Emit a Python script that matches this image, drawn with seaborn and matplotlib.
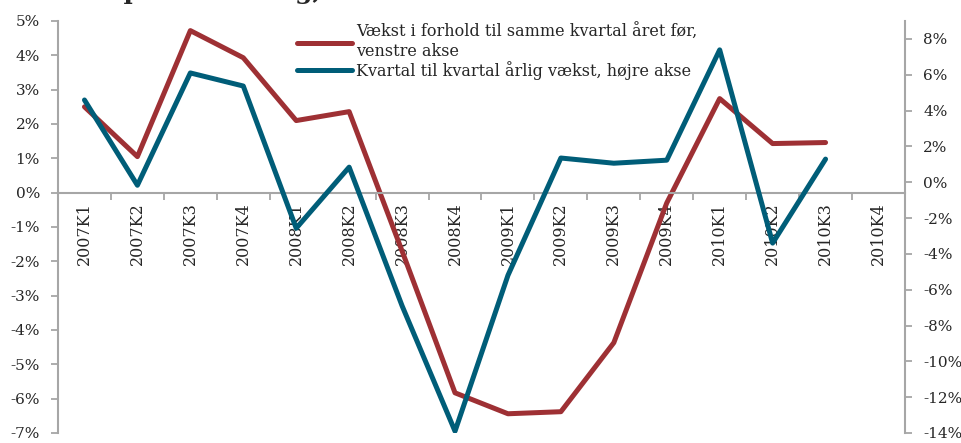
import numpy as np
import pandas as pd
import matplotlib
matplotlib.use("Agg")
import matplotlib.pyplot as plt
import seaborn as sns

quarters = ["2007K1", "2007K2", "2007K3", "2007K4",
            "2008K1", "2008K2", "2008K3", "2008K4",
            "2009K1", "2009K2", "2009K3", "2009K4",
            "2010K1", "2010K2", "2010K3", "2010K4"]
# vækst ift. samme kvartal året før (venstre akse, %)
yoy = [2.50, 1.05, 4.72, 3.93, 2.10, 2.36, -1.70, -5.83,
       -6.44, -6.38, -4.37, -0.30, 2.74, 1.43, 1.46, np.nan]
# kvartal til kvartal, årlig vækst (højre akse, %)
qoq = [4.59, -0.17, 6.10, 5.37, -2.57, 0.84, -6.90, -13.90,
       -5.20, 1.35, 1.06, 1.23, 7.39, -3.40, 1.29, np.nan]

left_ticks = list(range(-7, 6))
right_ticks = list(range(-14, 9, 2))

label_yoy = "Vækst i forhold til samme kvartal året før,\nvenstre akse"
label_qoq = "Kvartal til kvartal årlig vækst, højre akse"

red = "#9E3034"
blue = "#005D78"
grey = "#A6A6A6"

df = pd.DataFrame({"pos": np.arange(len(quarters)), "yoy": yoy, "qoq": qoq})

sns.set_style("white")
plt.rcParams["font.family"] = ["DejaVu Serif"]
plt.rcParams["axes.unicode_minus"] = False

fig = plt.figure(figsize=(9.62, 4.43), dpi=100)
ax = fig.add_axes([0.0603, 0.0226, 0.8804, 0.93])
ax2 = ax.twinx()

sns.lineplot(data=df, x="pos", y="yoy", ax=ax, color=red, linewidth=3.6,
             label=label_yoy, legend=False, solid_capstyle="round")
sns.lineplot(data=df, x="pos", y="qoq", ax=ax2, color=blue, linewidth=3.6,
             label=label_qoq, legend=False, solid_capstyle="round")

ax.set_xlim(-0.5, len(quarters) - 0.5)
ax.set_ylim(-7, 5)
ax2.set_ylim(-14, 9)

ax.set_yticks(left_ticks)
ax.set_yticklabels([f"{v}%" for v in left_ticks])
ax2.set_yticks(right_ticks)
ax2.set_yticklabels([f"{v}%" for v in right_ticks])

ax.set_xticks(np.arange(len(quarters)))
ax.set_xticklabels(quarters)
ax.set_xticks(np.arange(len(quarters) + 1) - 0.5, minor=True)
ax.tick_params(axis="x", which="major", length=0, pad=7, labelsize=11.5,
               labelrotation=90)
for t in ax.get_xticklabels():
    t.set_va("top")
    t.set_ha("center")
ax.tick_params(axis="x", which="minor", length=5, width=1.3, color=grey,
               direction="out", bottom=True)

ax.set_xlabel("")
ax.set_ylabel("")
ax2.set_ylabel("")

for a in (ax, ax2):
    for s in a.spines.values():
        s.set_color(grey)
        s.set_linewidth(1.5)
    a.spines["top"].set_visible(False)

ax.spines["bottom"].set_position(("data", 0))
ax.spines["right"].set_visible(False)
ax2.spines["left"].set_visible(False)
ax2.spines["bottom"].set_visible(False)
ax2.spines["right"].set_bounds(-14, 9)

ax.tick_params(axis="y", left=True, length=5, width=1.3, color=grey,
               labelsize=11, pad=8)
ax2.tick_params(axis="y", right=True, length=5, width=1.3, color=grey,
                labelsize=11, pad=8)

h1, l1 = ax.get_legend_handles_labels()
h2, l2 = ax2.get_legend_handles_labels()
ax2.legend(h1 + h2, l1 + l2, loc="upper left",
           bbox_to_anchor=(0.275, 1.01), frameon=False, fontsize=11.5,
           handlelength=3.4, handletextpad=0.3, labelspacing=0.05,
           borderaxespad=0)

# titel, næsten helt beskåret i toppen
fig.text(0.013, 1 + 1 / 443, "Vækst i privatforbrug, 2007-2010",
         fontsize=18, fontweight="bold", va="baseline", ha="left")

fig.savefig("out.png", dpi=100)
